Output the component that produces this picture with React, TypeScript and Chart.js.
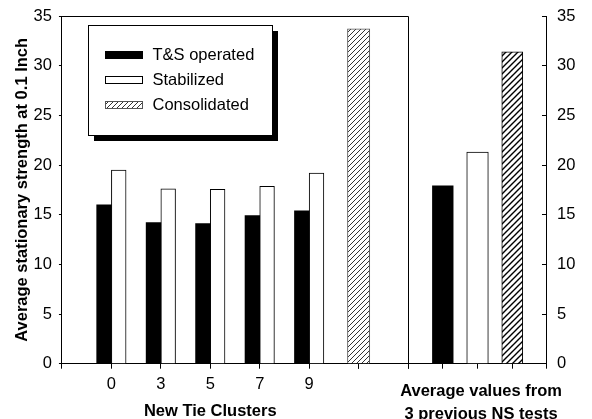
import React, { useEffect, useRef } from 'react';
import { Chart, registerables } from 'chart.js';

Chart.register(...registerables);

// ---------- data ----------
const clusterLabels = ['', '0', '3', '5', '7', '9', ''];
const gapLabels = ['', ''];
const previousLabels = ['', '', '', '', ''];

const seriesNames = ['T&S operated', 'Stabilized', 'Consolidated'];

const tsOperated = [null, 16.0, 14.2, 14.1, 14.9, 15.4, null];
const stabilized = [null, 19.5, 17.6, 17.55, 17.85, 19.2, null];
const consolidated = [null, null, null, null, null, null, 33.7];

const prevTsOperated = [null, 17.9, null, null, null];
const prevStabilized = [null, null, 21.3, null, null];
const prevConsolidated = [null, null, null, 31.4, null];

const yMin = 0;
const yMax = 35;
const yStep = 5;

const yTitle = 'Average stationary strength at 0.1 Inch';
const clusterTitle = 'New Tie Clusters';
const previousTitle = ['Average values from', '3 previous NS tests'];

// ---------- styles ----------
const FONT = 'Liberation Sans, Arial, Helvetica, sans-serif';
const FS = 16.5;
const AXIS = '#000';
const TITLE_LH = 22.5;

function makeHatch(ctx: CanvasRenderingContext2D, s: number, color: string, lw: number) {
  const c = document.createElement('canvas');
  c.width = s;
  c.height = s;
  const g = c.getContext('2d')!;
  g.fillStyle = '#fff';
  g.fillRect(0, 0, s, s);
  g.strokeStyle = color;
  g.lineWidth = lw;
  g.beginPath();
  g.moveTo(-1, s + 1);
  g.lineTo(s + 1, -1);
  g.moveTo(-1, 1);
  g.lineTo(1, -1);
  g.moveTo(s - 1, s + 1);
  g.lineTo(s + 1, s - 1);
  g.stroke();
  return ctx.createPattern(c, 'repeat');
}

// frame of the left panel (top edge + separator), drawn along the scales
const panelFrame = {
  id: 'panelFrame',
  afterDatasetsDraw(chart: any) {
    const { ctx, chartArea } = chart;
    const xb = chart.scales.xb;
    const xr = Math.round(xb.right) + 0.5;
    const yt = Math.round(chartArea.top) + 0.5;
    ctx.save();
    ctx.strokeStyle = AXIS;
    ctx.lineWidth = 1;
    ctx.beginPath();
    ctx.moveTo(chartArea.left, yt);
    ctx.lineTo(xr, yt);
    ctx.lineTo(xr, chartArea.bottom);
    ctx.stroke();
    ctx.restore();
  },
};

// two-line title under the right panel (wider than its axis, so drawn without maxWidth)
const previousAxisTitle = {
  id: 'previousAxisTitle',
  afterDraw(chart: any) {
    const { ctx } = chart;
    const xa = chart.scales.xa;
    const xc = chart.scales.xc;
    const cx = (xc.left + xc.right) / 2 + 3.5;
    const lastY = xa.bottom - TITLE_LH / 2 + 2.5;
    ctx.save();
    ctx.fillStyle = '#000';
    ctx.font = `bold ${FS}px ${FONT}`;
    ctx.textAlign = 'center';
    ctx.textBaseline = 'middle';
    const n = previousTitle.length;
    previousTitle.forEach((line, i) => {
      ctx.fillText(line, cx, lastY - (n - 1 - i) * TITLE_LH);
    });
    ctx.restore();
  },
};

const boxLegend = {
  id: 'boxLegend',
  afterDraw(chart: any) {
    const { ctx, chartArea } = chart;
    const x = Math.round(chartArea.left + 26);
    const y = Math.round(chartArea.top + 9);
    const w = 184;
    const h = 110;
    ctx.save();
    ctx.fillStyle = '#000';
    ctx.fillRect(x + 6, y + 6, w, h);
    ctx.fillStyle = '#fff';
    ctx.fillRect(x, y, w, h);
    ctx.strokeStyle = '#000';
    ctx.lineWidth = 1;
    ctx.strokeRect(x + 0.5, y + 0.5, w, h);
    const items = chart.data.datasets.slice(0, 3);
    items.forEach((ds: any, i: number) => {
      const cy = y + 30 + i * 25;
      const sx = x + 17;
      const sw = 38;
      const sh = 8;
      ctx.fillStyle = ds.backgroundColor;
      ctx.fillRect(sx, Math.round(cy - sh / 2), sw, sh);
      if (ds.borderWidth) {
        ctx.strokeStyle = ds.borderColor;
        ctx.lineWidth = 1;
        ctx.strokeRect(sx + 0.5, Math.round(cy - sh / 2) + 0.5, sw - 1, sh - 1);
      }
      ctx.fillStyle = '#000';
      ctx.font = `${FS}px ${FONT}`;
      ctx.textBaseline = 'middle';
      ctx.textAlign = 'left';
      ctx.fillText(ds.label, x + 64.5, cy);
    });
    ctx.restore();
  },
};

export default function App() {
  const ref = useRef<HTMLCanvasElement | null>(null);

  useEffect(() => {
    const canvas = ref.current!;
    const ctx = canvas.getContext('2d')!;
    const hatchLight = makeHatch(ctx, 5, '#333', 1);
    const hatchDark = makeHatch(ctx, 6, '#000', 1.4);

    const tickFont = { family: FONT, size: FS };
    const titleFont = { family: FONT, size: FS, weight: 'bold' as const, lineHeight: TITLE_LH / FS };

    const common = { indexAxis: 'x', yAxisID: 'y', skipNull: true, grouped: true, clip: false };

    const chart = new Chart(canvas, {
      type: 'bar',
      data: {
        datasets: [
          {
            ...common,
            label: seriesNames[0],
            data: tsOperated,
            xAxisID: 'xa',
            backgroundColor: '#000',
            borderWidth: 0,
            barThickness: 14.7,
          },
          {
            ...common,
            label: seriesNames[1],
            data: stabilized,
            xAxisID: 'xa',
            backgroundColor: '#fff',
            borderColor: '#000',
            borderWidth: 1,
            barThickness: 14.7,
          },
          {
            ...common,
            label: seriesNames[2],
            data: consolidated,
            xAxisID: 'xa',
            backgroundColor: hatchLight,
            borderColor: '#555',
            borderWidth: 1,
            barThickness: 22.3,
          },
          {
            ...common,
            label: seriesNames[0],
            data: prevTsOperated,
            xAxisID: 'xc',
            backgroundColor: '#000',
            borderWidth: 0,
            barThickness: 20.7,
          },
          {
            ...common,
            label: seriesNames[1],
            data: prevStabilized,
            xAxisID: 'xc',
            backgroundColor: '#fff',
            borderColor: '#000',
            borderWidth: 1,
            barThickness: 21.6,
          },
          {
            ...common,
            label: seriesNames[2],
            data: prevConsolidated,
            xAxisID: 'xc',
            backgroundColor: hatchDark,
            borderColor: '#000',
            borderWidth: 1,
            barThickness: 21,
          },
        ] as any,
      },
      options: {
        // chart-level index axis differs from the datasets' one so that bars on
        // the two horizontal axes are grouped independently
        indexAxis: 'y',
        animation: false,
        responsive: true,
        maintainAspectRatio: false,
        layout: { padding: { top: 16, left: 6, right: 1.65, bottom: 0 } },
        plugins: { legend: { display: false }, tooltip: { enabled: false } },
        scales: {
          xa: {
            type: 'category',
            axis: 'x',
            labels: clusterLabels,
            position: 'bottom',
            stack: 'bottomAxis',
            stackWeight: 6,
            offset: false,
            grid: { offset: false, drawOnChartArea: false, tickLength: 5, color: AXIS },
            border: { color: AXIS },
            ticks: { font: tickFont, color: '#000', padding: 6, maxRotation: 0, autoSkip: false },
            title: { display: true, text: clusterTitle, font: titleFont, color: '#000', padding: { top: 0, bottom: 0 } },
          },
          xb: {
            type: 'category',
            axis: 'x',
            labels: gapLabels,
            position: 'bottom',
            stack: 'bottomAxis',
            stackWeight: 1,
            offset: false,
            grid: { offset: false, drawOnChartArea: false, tickLength: 5, color: AXIS },
            border: { color: AXIS },
            ticks: { display: false },
          },
          xc: {
            type: 'category',
            axis: 'x',
            labels: previousLabels,
            position: 'bottom',
            stack: 'bottomAxis',
            stackWeight: 2.81,
            offset: false,
            grid: { offset: false, drawOnChartArea: false, tickLength: 5, color: AXIS },
            border: { color: AXIS },
            ticks: { display: false },
          },
          y: {
            type: 'linear',
            axis: 'y',
            position: 'left',
            min: yMin,
            max: yMax,
            offset: false,
            grid: { offset: false, drawOnChartArea: false, tickLength: 3, color: AXIS },
            border: { color: AXIS },
            ticks: { stepSize: yStep, font: { ...tickFont, lineHeight: 1 }, color: '#000', padding: 7 },
            title: { display: true, text: yTitle, font: { family: FONT, size: FS, weight: 'bold', lineHeight: 1.2 }, color: '#000', padding: { top: 6.1, bottom: -5.3 } },
          },
          y2: {
            type: 'linear',
            axis: 'y',
            position: 'right',
            min: yMin,
            max: yMax,
            offset: false,
            grid: { offset: false, drawOnChartArea: false, tickLength: -5, color: AXIS },
            border: { color: AXIS },
            ticks: { stepSize: yStep, font: { ...tickFont, lineHeight: 0.1 }, color: '#000', padding: 15 },
          },
        } as any,
      } as any,
      plugins: [panelFrame, previousAxisTitle, boxLegend],
    });
    return () => chart.destroy();
  }, []);

  return (
    <div style={{ position: 'fixed', left: 0, top: 0, width: 592, height: 423, background: '#fff' }}>
      <canvas ref={ref} />
    </div>
  );
}
